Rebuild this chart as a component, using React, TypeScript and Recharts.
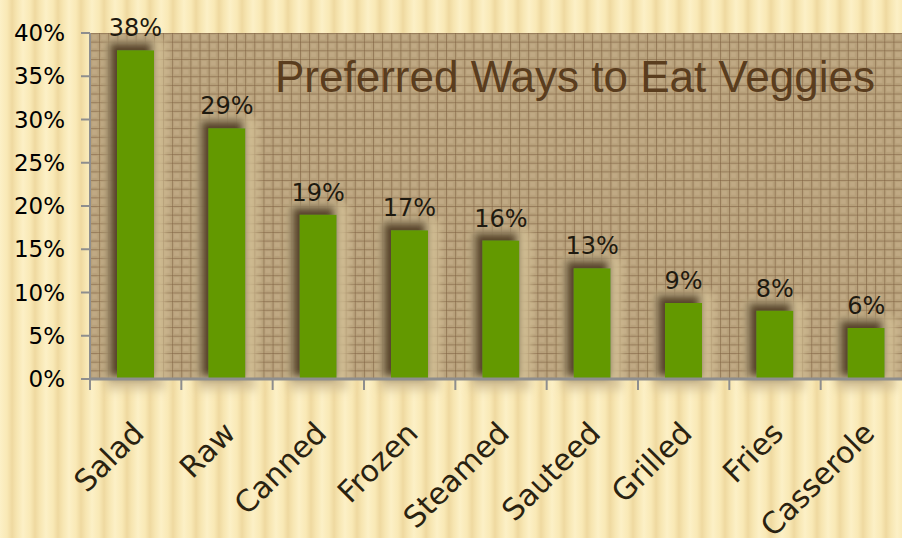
import { Bar, BarChart, CartesianGrid, LabelList, XAxis, YAxis } from "recharts";

const categories = ["Salad", "Raw", "Canned", "Frozen", "Steamed", "Sauteed", "Grilled", "Fries", "Casserole"];
const shares = [38, 29, 19, 17.2, 16, 12.8, 8.8, 7.9, 5.9];
const yTicks = [0, 5, 10, 15, 20, 25, 30, 35, 40];
const title = "Preferred Ways to Eat Veggies";

const data = categories.map((name, i) => ({ name, share: shares[i] }));

const FONT = "'DejaVu Sans', Verdana, sans-serif";
const TITLE_FONT = "'Liberation Sans', Arial, sans-serif";
const AXIS_GRAY = "#8e8e8e";

function CategoryTick(props: any) {
  const { x, y, payload } = props;
  const half = payload?.offset ?? 45.65;
  const tx = x + 10;
  const ty = y + 56;
  return (
    <g>
      <line x1={x - half} x2={x - half} y1={y} y2={y + 11} stroke={AXIS_GRAY} strokeWidth={2} />
      <text
        x={tx}
        y={ty}
        transform={`rotate(-45, ${tx}, ${ty})`}
        textAnchor="end"
        fontFamily={FONT}
        fontSize={30}
        fill="#2a2210"
      >
        {payload.value}
      </text>
    </g>
  );
}

export default function App() {
  return (
    <div
      style={{
        position: "fixed",
        left: 0,
        top: 0,
        width: 902,
        height: 538,
        overflow: "hidden",
        background:
          "repeating-linear-gradient(90deg, #fcf0c6 0px, #f9e9b6 7px, #efd9a0 12px, #f7e6b2 17px, #fcf0c6 23px)",
      }}
    >
      <BarChart width={912} height={538} data={data} margin={{ top: 33, right: 0, left: 0, bottom: 0 }} barSize={37}>
        <defs>
          <pattern id="paper" patternUnits="userSpaceOnUse" x={90} y={33} width={9.13} height={8.65}>
            <rect width={9.13} height={8.65} fill="#b7a07a" />
            <rect x={2} y={2} width={5} height={4.6} fill="#c6b18c" opacity={0.55} />
            <path d="M0 0 H9.13 M0 0 V8.65" stroke="#7a5b3b" strokeWidth={1} fill="none" />
          </pattern>
          <filter id="glow" x="-80%" y="-40%" width="260%" height="180%">
            <feMorphology in="SourceAlpha" operator="dilate" radius={11} result="wide" />
            <feGaussianBlur in="wide" stdDeviation={5} result="wideBlur" />
            <feFlood floodColor="#d6c398" floodOpacity={0.9} />
            <feComposite in2="wideBlur" operator="in" result="halo" />
            <feOffset in="SourceAlpha" dx={-5} dy={-5} result="shifted" />
            <feMorphology in="shifted" operator="dilate" radius={4} result="shiftWide" />
            <feGaussianBlur in="shiftWide" stdDeviation={4} result="shadowBlur" />
            <feFlood floodColor="#4a3214" floodOpacity={0.95} />
            <feComposite in2="shadowBlur" operator="in" result="shadow" />
            <feMerge>
              <feMergeNode in="halo" />
              <feMergeNode in="shadow" />
              <feMergeNode in="SourceGraphic" />
            </feMerge>
          </filter>
        </defs>
        <CartesianGrid horizontal={false} vertical={false} fill="url(#paper)" fillOpacity={1} />
        <XAxis
          dataKey="name"
          interval={0}
          height={159}
          tickSize={0}
          tickMargin={0}
          tickLine={false}
          axisLine={{ stroke: AXIS_GRAY, strokeWidth: 3 }}
          tick={<CategoryTick />}
        />
        <YAxis
          domain={[0, 40]}
          ticks={yTicks}
          interval={0}
          width={90}
          tickSize={9}
          tickMargin={16}
          tickFormatter={(v: number) => `${v}%`}
          tick={{ fontFamily: FONT, fontSize: 23, fill: "#000" }}
          tickLine={{ stroke: AXIS_GRAY, strokeWidth: 2 }}
          axisLine={{ stroke: AXIS_GRAY, strokeWidth: 2 }}
        />
        <Bar dataKey="share" fill="#639900" filter="url(#glow)" isAnimationActive={false}>
          <LabelList
            dataKey="share"
            position="top"
            offset={14}
            formatter={(v: any) => `${Math.round(Number(v))}%`}
            style={{ fontFamily: FONT, fontSize: 24, fill: "#1e1a10" }}
          />
        </Bar>
      </BarChart>
      <svg width={902} height={538} style={{ position: "absolute", left: 0, top: 0, pointerEvents: "none" }}>
        <text x={275} y={92} fontFamily={TITLE_FONT} fontSize={44} fill="#5a3d1e">
          {title}
        </text>
      </svg>
    </div>
  );
}
